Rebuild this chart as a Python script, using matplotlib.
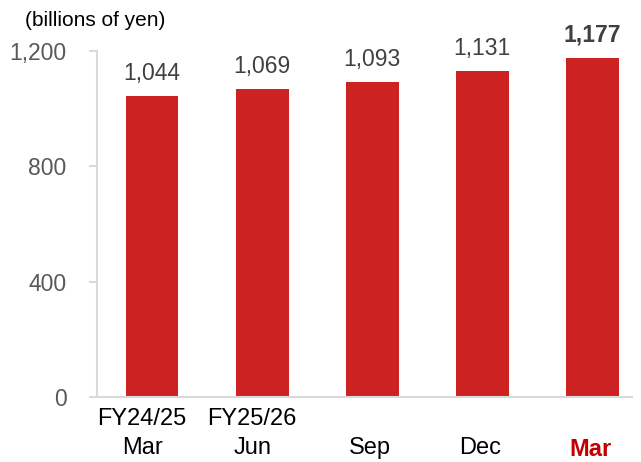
import matplotlib.pyplot as plt

plt.rcParams['font.family'] = ['Liberation Sans', 'DejaVu Sans']

categories = ["FY24/25\nMar", "FY25/26\nJun", "\nSep", "\nDec", "\nMar"]
values = [1044, 1069, 1093, 1131, 1177]
value_labels = ["1,044", "1,069", "1,093", "1,131", "1,177"]
yticks = [0, 400, 800, 1200]
ytick_labels = ["0", "400", "800", "1,200"]

bar_color = "#CC2322"
spine_color = "#D9D9D9"

fig = plt.figure(figsize=(6.41, 4.62), dpi=100)
ax = fig.add_axes([97 / 641, 65 / 462, 535 / 641, 346 / 462])

x = list(range(len(values)))
ax.bar(x, values, width=0.48, color=bar_color, zorder=2)

for i, (v, lab) in enumerate(zip(values, value_labels)):
    last = i == len(values) - 1
    ax.annotate(lab, (i, v), xytext=(0, 8), textcoords="offset points",
                ha="center", va="bottom", fontsize=16.5,
                color="#404040", fontweight="bold" if last else "normal")

ax.set_ylim(0, 1200)
ax.set_xlim(-0.5, 4.36)
ax.set_yticks(yticks)
ax.set_yticklabels(ytick_labels)
# the two-year labels sit a little left of their bars in the original
tick_pos = [i - (0.09 if "FY" in c else 0.02) for i, c in enumerate(categories)]
ax.set_xticks(tick_pos)
ax.set_xticklabels(categories, fontsize=17, linespacing=1.4)
for i, t in enumerate(ax.get_xticklabels()):
    if i == len(categories) - 1:
        t.set_color("#C00000")
        t.set_fontweight("bold")

ax.tick_params(axis="y", length=6, width=1.5, color=spine_color,
               labelsize=16.5, labelcolor="#595959", pad=16)
ax.tick_params(axis="x", length=0, pad=8)

for s in ["top", "right"]:
    ax.spines[s].set_visible(False)
for s in ["left", "bottom"]:
    ax.spines[s].set_color(spine_color)
    ax.spines[s].set_linewidth(1.5)

fig.text(25 / 641, 1 - 20 / 462, "(billions of yen)", fontsize=15,
         color="black", va="center", ha="left")

fig.savefig("out.png", dpi=100)
